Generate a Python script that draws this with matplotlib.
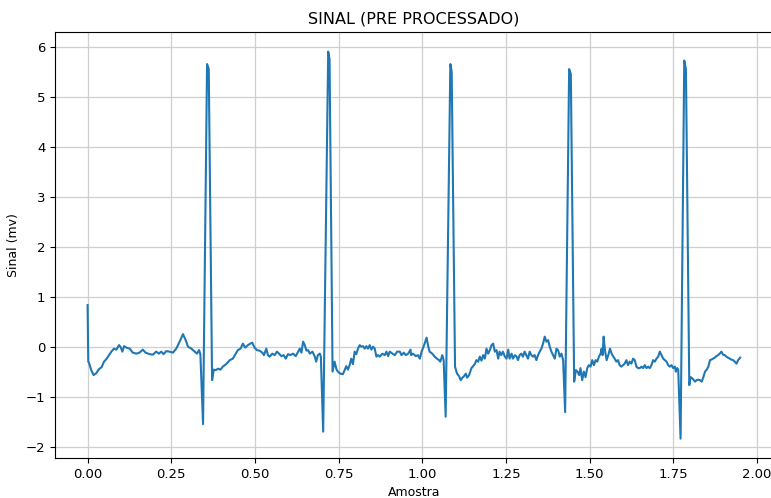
import matplotlib
matplotlib.use("Agg")
import matplotlib.pyplot as plt

# valores (amostra, sinal em mv)
amostra = [
    0.000, 0.002, 0.004, 0.011, 0.018, 0.026, 0.034, 0.042, 0.049, 0.056,
    0.064, 0.071, 0.079, 0.086, 0.094, 0.098, 0.104, 0.109, 0.116, 0.126,
    0.135, 0.146, 0.155, 0.165, 0.173, 0.185, 0.195, 0.205, 0.213, 0.220,
    0.227, 0.235, 0.245, 0.255, 0.265, 0.275, 0.285, 0.293, 0.300, 0.310,
    0.320, 0.327, 0.333, 0.337, 0.345, 0.357, 0.362, 0.372, 0.377, 0.383,
    0.390, 0.397, 0.404, 0.414, 0.425, 0.434, 0.442, 0.449, 0.457, 0.464,
    0.471, 0.479, 0.486, 0.492, 0.499, 0.506, 0.514, 0.522, 0.527, 0.534,
    0.539, 0.544, 0.552, 0.559, 0.566, 0.572, 0.579, 0.586, 0.592, 0.599,
    0.606, 0.614, 0.622, 0.629, 0.634, 0.639, 0.644, 0.649, 0.654, 0.659,
    0.664, 0.672, 0.679, 0.683, 0.688, 0.694, 0.697, 0.704, 0.719, 0.723,
    0.732, 0.738, 0.744, 0.748, 0.755, 0.763, 0.768, 0.773, 0.778, 0.783,
    0.788, 0.793, 0.798, 0.803, 0.808, 0.813, 0.818, 0.823, 0.828, 0.833,
    0.838, 0.843, 0.848, 0.853, 0.858, 0.863, 0.868, 0.873, 0.881, 0.888,
    0.893, 0.898, 0.903, 0.911, 0.918, 0.925, 0.933, 0.938, 0.945, 0.951,
    0.958, 0.965, 0.967, 0.972, 0.981, 0.987, 0.993, 0.998, 1.004, 1.013,
    1.017, 1.022, 1.030, 1.037, 1.044, 1.050, 1.054, 1.060, 1.064, 1.070,
    1.084, 1.088, 1.098, 1.104, 1.110, 1.115, 1.120, 1.125, 1.130, 1.134,
    1.140, 1.147, 1.152, 1.157, 1.162, 1.167, 1.172, 1.177, 1.182, 1.187,
    1.192, 1.197, 1.202, 1.207, 1.212, 1.217, 1.222, 1.227, 1.231, 1.236,
    1.241, 1.247, 1.252, 1.257, 1.261, 1.267, 1.271, 1.277, 1.282, 1.286,
    1.291, 1.296, 1.301, 1.306, 1.311, 1.316, 1.321, 1.326, 1.331, 1.336,
    1.341, 1.346, 1.351, 1.356, 1.361, 1.366, 1.371, 1.376, 1.381, 1.386,
    1.391, 1.396, 1.401, 1.406, 1.411, 1.416, 1.421, 1.427, 1.439, 1.444,
    1.454, 1.459, 1.464, 1.469, 1.473, 1.478, 1.483, 1.488, 1.493, 1.498,
    1.503, 1.508, 1.513, 1.518, 1.523, 1.528, 1.533, 1.536, 1.539, 1.542,
    1.546, 1.551, 1.556, 1.561, 1.566, 1.571, 1.575, 1.580, 1.585, 1.590,
    1.595, 1.600, 1.605, 1.610, 1.615, 1.620, 1.625, 1.630, 1.635, 1.640,
    1.645, 1.650, 1.655, 1.660, 1.665, 1.670, 1.675, 1.680, 1.685, 1.690,
    1.695, 1.700, 1.705, 1.710, 1.715, 1.720, 1.725, 1.730, 1.735, 1.740,
    1.745, 1.750, 1.755, 1.758, 1.762, 1.765, 1.772, 1.783, 1.788, 1.798,
    1.802, 1.808, 1.815, 1.820, 1.825, 1.830, 1.835, 1.840, 1.845, 1.850,
    1.855, 1.860, 1.864, 1.869, 1.874, 1.879, 1.884, 1.889, 1.894, 1.899,
    1.904, 1.909, 1.914, 1.919, 1.924, 1.929, 1.934, 1.939, 1.944, 1.950,
]
sinal = [
    0.83, -0.30, -0.32, -0.47, -0.57, -0.53, -0.45, -0.41, -0.30, -0.25,
    -0.17, -0.10, -0.04, -0.06, 0.03, 0.00, -0.10, 0.01, -0.02, -0.04,
    -0.12, -0.14, -0.12, -0.06, -0.12, -0.15, -0.16, -0.10, -0.14, -0.10,
    -0.15, -0.09, -0.10, -0.12, -0.04, 0.10, 0.25, 0.13, 0.00, -0.04,
    -0.10, -0.14, -0.07, -0.15, -1.55, 5.65, 5.55, -0.67, -0.46, -0.47,
    -0.44, -0.46, -0.40, -0.35, -0.27, -0.24, -0.15, -0.07, -0.04, 0.06,
    -0.02, 0.03, 0.06, 0.08, -0.02, -0.07, -0.08, -0.12, -0.17, -0.04,
    -0.17, -0.20, -0.14, -0.17, -0.10, -0.14, -0.19, -0.17, -0.24, -0.15,
    -0.17, -0.14, -0.19, -0.10, -0.04, -0.12, 0.10, 0.03, -0.08, -0.07,
    -0.14, -0.10, -0.20, -0.30, -0.17, -0.14, -0.20, -1.70, 5.90, 5.75,
    -0.50, -0.30, -0.46, -0.50, -0.54, -0.55, -0.47, -0.39, -0.46, -0.37,
    -0.24, -0.35, -0.10, -0.15, -0.04, 0.03, 0.00, 0.01, -0.04, 0.01,
    -0.04, 0.03, -0.06, 0.00, -0.04, -0.20, -0.17, -0.20, -0.14, -0.17,
    -0.10, -0.19, -0.10, -0.14, -0.17, -0.10, -0.10, -0.17, -0.12, -0.17,
    -0.14, -0.06, -0.17, -0.14, -0.19, -0.17, -0.24, -0.10, 0.00, 0.18,
    0.03, -0.10, -0.14, -0.20, -0.24, -0.27, -0.30, -0.17, -0.27, -1.40,
    5.65, 5.50, -0.40, -0.54, -0.59, -0.67, -0.62, -0.59, -0.54, -0.62,
    -0.57, -0.43, -0.39, -0.35, -0.27, -0.30, -0.20, -0.28, -0.17, -0.24,
    -0.04, -0.14, -0.07, 0.03, 0.06, -0.10, -0.07, -0.24, -0.10, -0.17,
    -0.10, -0.20, -0.24, -0.06, -0.24, -0.14, -0.24, -0.17, -0.20, -0.27,
    -0.17, -0.14, -0.20, -0.10, -0.17, -0.24, -0.10, -0.17, -0.20, -0.17,
    -0.27, -0.17, -0.10, -0.04, 0.06, 0.20, 0.10, 0.13, 0.00, -0.10,
    -0.17, -0.24, -0.04, -0.07, -0.20, -0.14, -0.27, -1.31, 5.55, 5.45,
    -0.70, -0.47, -0.50, -0.57, -0.43, -0.67, -0.50, -0.61, -0.43, -0.37,
    -0.40, -0.27, -0.37, -0.27, -0.30, -0.20, -0.14, -0.04, -0.17, 0.20,
    -0.07, -0.27, -0.17, -0.04, -0.14, -0.20, -0.24, -0.30, -0.27, -0.37,
    -0.40, -0.37, -0.34, -0.27, -0.37, -0.30, -0.34, -0.24, -0.27, -0.40,
    -0.43, -0.43, -0.40, -0.43, -0.37, -0.43, -0.40, -0.43, -0.37, -0.27,
    -0.30, -0.24, -0.20, -0.10, -0.17, -0.24, -0.27, -0.30, -0.37, -0.40,
    -0.37, -0.43, -0.40, -0.50, -0.43, -0.47, -1.84, 5.72, 5.55, -0.77,
    -0.61, -0.64, -0.70, -0.67, -0.66, -0.67, -0.70, -0.61, -0.50, -0.46,
    -0.40, -0.27, -0.26, -0.24, -0.22, -0.19, -0.17, -0.14, -0.10, -0.16,
    -0.17, -0.20, -0.22, -0.24, -0.26, -0.27, -0.30, -0.34, -0.27, -0.22,
]

fig = plt.figure(figsize=(7.71, 4.98), dpi=100)
ax = fig.add_axes([0.0713, 0.0803, 0.931, 0.855])

ax.plot(amostra, sinal, color='#1f77b4', linewidth=1.5)

ax.grid(True, color='#cfcfcf', linewidth=0.9)
ax.tick_params(labelsize=9.5)
ax.set_title("SINAL (PRE PROCESSADO)", fontsize=11.5)
ax.set_xlabel("Amostra", fontsize=9)
ax.set_ylabel("Sinal (mv)", fontsize=9)

fig.savefig("out.png", dpi=100)
